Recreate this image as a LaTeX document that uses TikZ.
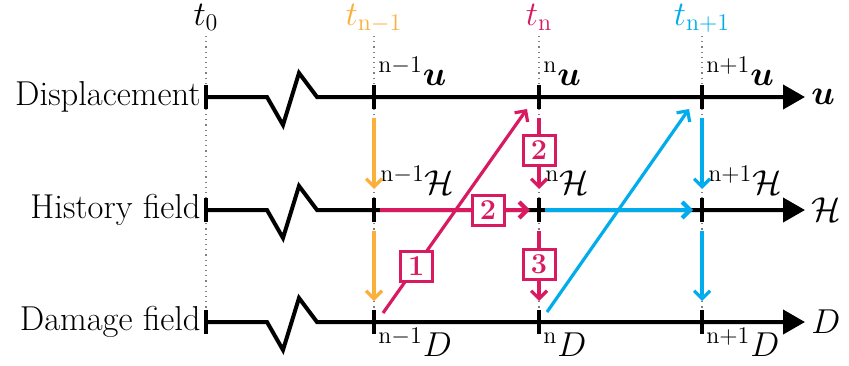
\documentclass[tikz,border=0pt]{standalone}
\usepackage{amsmath}
\usepackage{amssymb}
\usepackage{bm}
\usepackage{xcolor}
\usepackage{tikz}
\usetikzlibrary{arrows.meta,calc}
\definecolor{prevcol}{RGB}{251,176,59}
\definecolor{curcol}{RGB}{216,27,96}
\definecolor{nextcol}{RGB}{0,172,236}
\tikzset{
  lbl/.style={font=\LARGE, inner sep=0pt},
  axis/.style={line width=2pt, line join=miter},
  tick/.style={line width=2pt},
  guide/.style={gray, dotted, line width=0.6pt},
  arr/.style={line width=1.6pt, -{Straight Barb[length=4pt,width=8pt]}},
  flow/.style={line width=2.1pt, -{Straight Barb[length=4pt,width=8pt]}},
  stepno/.style={draw=curcol, fill=white, line width=1.5pt, text=curcol,
    font=\Large\bfseries, minimum width=16pt, minimum height=15pt, inner sep=0pt}
}
\begin{document}
\begin{tikzpicture}[x=0.5pt,y=-0.5pt]
\useasboundingbox (0,0) rectangle (849,365);
% time levels
\foreach \x/\nm/\col/\t in {206/0/black/t_0, 374/1/prevcol/t_{\mathrm{n-1}}, 539/2/curcol/t_{\mathrm{n}}, 702/3/nextcol/t_{\mathrm{n+1}}} {
  \draw[guide] (\x,36) -- (\x,312);
  \node[lbl, anchor=base, text=\col] (t\nm) at (\x,25) {$\t$};
}
% fields
\foreach \y/\nm/\txt/\sym in {97/u/Displacement/\bm{u}, 210/h/History field/\mathcal{H}, 322/d/Damage field/D} {
  \coordinate (\nm0) at (206,\y);
  \coordinate (\nm1) at (374,\y);
  \coordinate (\nm2) at (539,\y);
  \coordinate (\nm3) at (702,\y);
  \coordinate (\nm e) at (805,\y);
  \node[lbl, anchor=east] (\nm lab) at ($(\nm0)+(-5,0)$) {\txt};
  \node[lbl, anchor=west] (\nm sym) at ($(\nm e)+(6,0)$) {$\sym$};
  \draw[axis, -{Triangle[length=11pt,width=12pt]}] (\nm0) -- ++(61,0) -- ++(16,28) -- ++(16,-52) -- ++(18,24) -- (\nm e);
  \foreach \k in {0,...,3}
    \draw[tick] ($(\nm\k)+(0,-12)$) -- ($(\nm\k)+(0,12)$);
}
% values
\node[lbl, anchor=base west] (uv1) at ($(u1)+(4,-12)$) {${}^{\mathrm{n-1}}\bm{u}$};
\node[lbl, anchor=base west] (uv2) at ($(u2)+(4,-12)$) {${}^{\mathrm{n}}\bm{u}$};
\node[lbl, anchor=base west] (uv3) at ($(u3)+(4,-12)$) {${}^{\mathrm{n+1}}\bm{u}$};
\node[lbl, anchor=base west] (hv1) at ($(h1)+(6,-16)$) {${}^{\mathrm{n-1}}\mathcal{H}$};
\node[lbl, anchor=base west] (hv2) at ($(h2)+(6,-16)$) {${}^{\mathrm{n}}\mathcal{H}$};
\node[lbl, anchor=base west] (hv3) at ($(h3)+(6,-16)$) {${}^{\mathrm{n+1}}\mathcal{H}$};
\node[lbl, anchor=base west] (dv1) at ($(d1)+(4,34)$) {${}^{\mathrm{n-1}}D$};
\node[lbl, anchor=base west] (dv2) at ($(d2)+(4,34)$) {${}^{\mathrm{n}}D$};
\node[lbl, anchor=base west] (dv3) at ($(d3)+(4,34)$) {${}^{\mathrm{n+1}}D$};
% updates
\foreach \k/\col in {1/prevcol, 2/curcol, 3/nextcol} {
  \draw[arr, \col] ($(u\k)+(0,21)$) -- ($(h\k)+(0,-21)$);
  \draw[arr, \col] ($(h\k)+(0,21)$) -- ($(d\k)+(0,-21)$);
}
\node[stepno] (s2a) at ($(u2)+(0,53)$) {2};
\node[stepno] (s3) at ($(h2)+(0,54)$) {3};
\draw[flow, curcol] ($(h1)+(6,0)$) -- ($(h2)+(-9,0)$) node[stepno, pos=0.72] (s2b) {2};
\draw[flow, nextcol] ($(h2)+(6,0)$) -- ($(h3)+(-9,0)$);
\draw[arr, curcol] ($(d1)+(9,-9)$) -- ($(u2)+(-12,12)$) node[stepno, pos=0.23] (s1) {1};
\draw[arr, nextcol] ($(d2)+(8,-10)$) -- ($(u3)+(-13,12)$);
\end{tikzpicture}
\end{document}
